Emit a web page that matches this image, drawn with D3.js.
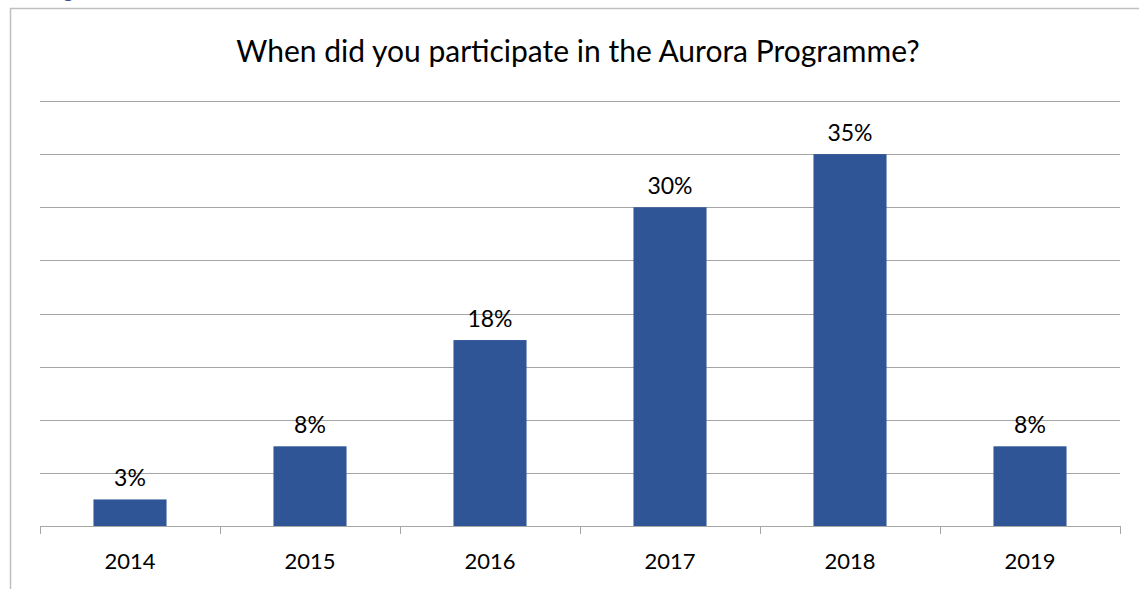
<!DOCTYPE html>
<html><head><meta charset="utf-8">
<script src="https://cdn.jsdelivr.net/npm/d3@7"></script>
<style>body{margin:0;background:#fff;}svg{display:block;font-family:Lato,"Open Sans",sans-serif;}</style>
</head><body>
<script>
const categories = ["2014","2015","2016","2017","2018","2019"];
const values = [2.5, 7.5, 17.5, 30, 35, 7.5];
const yTicks = [0,5,10,15,20,25,30,35,40];
const title = "When did you participate in the Aurora Programme?";

const W = 1139, H = 589;
const svg = d3.select("body").append("svg").attr("width", W).attr("height", H);

// Word-caption fragment at top (cut off by the page edge, as in the reference)
svg.append("text").attr("x", 47).attr("y", -2).attr("font-size", 20).attr("fill", "#2F5597").text("Fig");

// Frame
svg.append("path").attr("d", `M10.5,${H} V8.5 H${W}`).attr("fill","none").attr("stroke","#BFBFBF").attr("stroke-width",1.5);

const x = d3.scaleBand().domain(categories).range([40,1120]).paddingInner(0.594).paddingOuter(0.297);
const y = d3.scaleLinear().domain([0,40]).range([526,101]);

// gridlines
svg.append("g").selectAll("line").data(yTicks.slice(1)).join("line")
  .attr("x1",40).attr("x2",1120).attr("y1",d=>Math.round(y(d))+0.5).attr("y2",d=>Math.round(y(d))+0.5)
  .attr("stroke","#A6A6A6").attr("stroke-width",1);

// bars
svg.append("g").selectAll("rect").data(values).join("rect")
  .attr("x",(d,i)=>x(categories[i])).attr("width",x.bandwidth())
  .attr("y",d=>y(d)).attr("height",d=>y(0)-y(d))
  .attr("fill","#2F5597");

// x axis
const step = x.step();
const axis = svg.append("g");
axis.append("line").attr("x1",40).attr("x2",1120).attr("y1",526.5).attr("y2",526.5).attr("stroke","#A6A6A6");
const bounds = d3.range(categories.length+1).map(i=>40+i*step);
axis.selectAll("line.tick").data(bounds).join("line").attr("class","tick")
  .attr("x1",d=>Math.round(d)+0.5).attr("x2",d=>Math.round(d)+0.5).attr("y1",526).attr("y2",534)
  .attr("stroke","#A6A6A6");
axis.selectAll("text").data(categories).join("text")
  .attr("x",d=>x(d)+x.bandwidth()/2).attr("y",569).attr("text-anchor","middle")
  .attr("font-size",22).attr("fill","#000").text(d=>d);

// data labels
svg.append("g").selectAll("text").data(values).join("text")
  .attr("x",(d,i)=>x(categories[i])+x.bandwidth()/2).attr("y",d=>y(d)-13)
  .attr("text-anchor","middle").attr("font-size",23).attr("fill","#000")
  .text(d=>Math.round(d)+"%");

// title
svg.append("text").attr("x",578).attr("y",62).attr("text-anchor","middle")
  .attr("font-size",30).attr("fill","#000").text(title);
</script>
</body></html>
